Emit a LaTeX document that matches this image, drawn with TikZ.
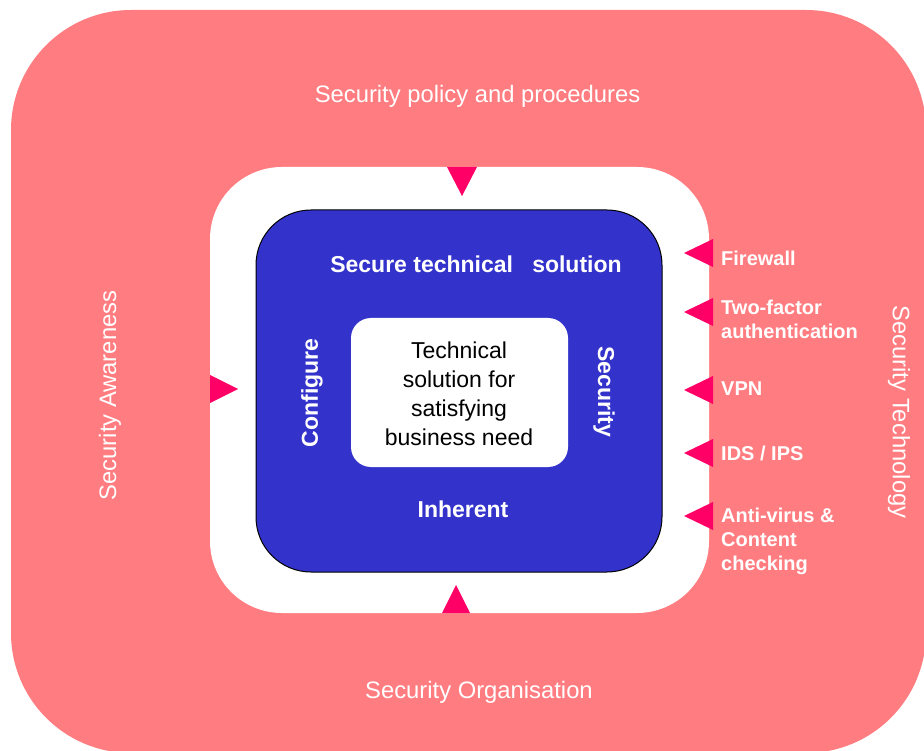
\documentclass[tikz,border=0pt]{standalone}
\usepackage{fontspec}
\setmainfont{Liberation Sans}
\definecolor{outerpink}{HTML}{FF7C80}
\definecolor{marker}{HTML}{FF0066}
\definecolor{corebl}{HTML}{3333CC}
\begin{document}
\begin{tikzpicture}[x=1pt,y=-1pt,
  side/.style={text=white,font=\fontsize{23.8}{28}\selectfont,inner sep=0pt},
  core/.style={text=white,font=\fontsize{23}{28}\selectfont\bfseries,inner sep=0pt},
  tech/.style={text=white,font=\fontsize{20}{24}\selectfont\bfseries,align=left,anchor=west,inner sep=0pt},
  tri/.style={fill=marker}]
\useasboundingbox (0,0) rectangle (924,751);
\fill[outerpink, rounded corners=120pt] (11,10) rectangle (926,753);
\fill[white, rounded corners=72pt] (210,167) rectangle (709,613);
\filldraw[fill=corebl, draw=black, line width=1pt, rounded corners=55pt] (256,210) rectangle (662,572);
\fill[white, rounded corners=20pt] (351,318) rectangle (568,467);
% markers
\fill[tri] (447,167) -- (477,167) -- (462,196) -- cycle;
\fill[tri] (442,613) -- (470,613) -- (456,585) -- cycle;
\fill[tri] (210,375) -- (210,403) -- (238,389) -- cycle;
\foreach \yy in {253,312,390,453,516}
  \fill[tri] (713,\yy-14) -- (713,\yy+14) -- (684,\yy) -- cycle;
% outer labels
\node[side] (policy) at (477.5,96) {Security policy and procedures};
\node[side] (org) at (479,692.5) {Security Organisation};
\node[side,rotate=90] (aware) at (110,395.5) {Security Awareness};
\node[side,rotate=-90] (techn) at (899,412) {Security Technology};
% core labels
\node[core] (sts) at (476,264.5) {Secure technical\ \ \ solution};
\node[core] (inh) at (463,509.5) {Inherent};
\node[core,rotate=90] (conf) at (312,393) {Configure};
\node[core,rotate=-90] (sec) at (604,392) {Security};
\node[font=\fontsize{23}{29}\selectfont, align=center, inner sep=0pt] (need) at (459,394) {Technical\\solution for\\satisfying\\business need};
% technology labels
\node[tech] (fw) at (721,258) {Firewall};
\node[tech] (tfa) at (721,319.5) {Two-factor\\authentication};
\node[tech] (vpn) at (721,389) {VPN};
\node[tech] (ids) at (721,453) {IDS / IPS};
\node[tech] (av) at (721,541.5) {Anti-virus \&\\Content\\checking};
\end{tikzpicture}
\end{document}
